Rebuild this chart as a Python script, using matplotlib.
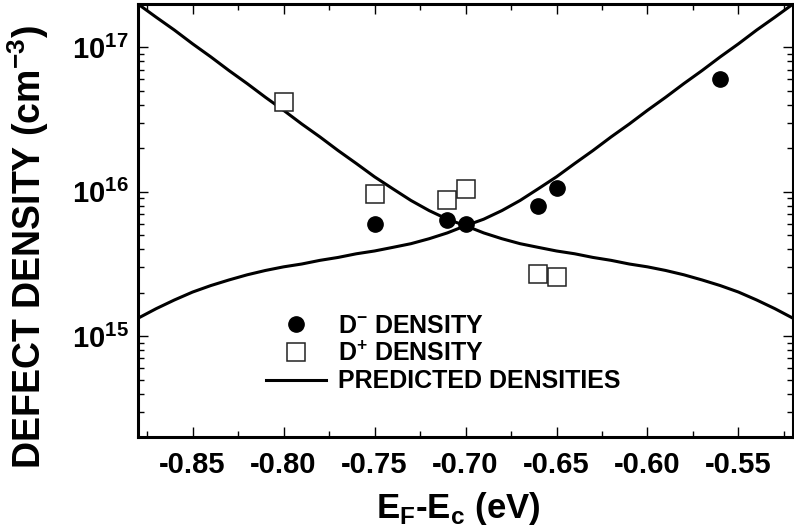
import numpy as np
import matplotlib
matplotlib.use("Agg")
import matplotlib.pyplot as plt
from matplotlib.ticker import FixedLocator, LogLocator, NullFormatter, FuncFormatter
from matplotlib.lines import Line2D

plt.rcParams['font.family'] = ['Liberation Sans', 'DejaVu Sans']
plt.rcParams['font.weight'] = 'bold'
plt.rcParams['axes.labelweight'] = 'bold'

# Measured defect densities (cm^-3) versus Fermi level position E_F - E_c (eV)
d_minus_x = [-0.75, -0.71, -0.70, -0.66, -0.65, -0.56]
d_minus_y = [6.0e15, 6.4e15, 6.0e15, 8.0e15, 1.07e16, 6.0e16]

d_plus_x = [-0.80, -0.75, -0.71, -0.70, -0.66, -0.65]
d_plus_y = [4.2e16, 9.7e15, 8.8e15, 1.05e16, 2.7e15, 2.55e15]

# Predicted densities on a 0.01 eV grid
model_x = [-0.88, -0.87, -0.86, -0.85, -0.84, -0.83, -0.82, -0.81, -0.80,
           -0.79, -0.78, -0.77, -0.76, -0.75, -0.74, -0.73, -0.72, -0.71,
           -0.70, -0.69, -0.68, -0.67, -0.66, -0.65, -0.64, -0.63, -0.62,
           -0.61, -0.60, -0.59, -0.58, -0.57, -0.56, -0.55, -0.54, -0.53,
           -0.52]
model_d_plus = [2.00e17, 1.62e17, 1.32e17, 1.06e17, 8.61e16, 6.92e16, 5.62e16,
                4.52e16, 3.67e16, 2.95e16, 2.40e16, 1.93e16, 1.57e16, 1.27e16,
                1.05e16, 8.71e15, 7.41e15, 6.46e15, 5.82e15, 5.19e15, 4.73e15,
                4.37e15, 4.12e15, 3.89e15, 3.72e15, 3.51e15, 3.35e15, 3.16e15,
                3.02e15, 2.85e15, 2.66e15, 2.45e15, 2.24e15, 2.02e15, 1.78e15,
                1.55e15, 1.33e15]
model_d_minus = [1.33e15, 1.55e15, 1.78e15, 2.02e15, 2.24e15, 2.45e15, 2.66e15,
                 2.85e15, 3.02e15, 3.16e15, 3.35e15, 3.51e15, 3.72e15, 3.89e15,
                 4.12e15, 4.37e15, 4.73e15, 5.19e15, 5.82e15, 6.46e15, 7.41e15,
                 8.71e15, 1.05e16, 1.27e16, 1.57e16, 1.93e16, 2.40e16, 2.95e16,
                 3.67e16, 4.52e16, 5.62e16, 6.92e16, 8.61e16, 1.06e17, 1.32e17,
                 1.62e17, 2.00e17]

x_ticks = [-0.85, -0.80, -0.75, -0.70, -0.65, -0.60, -0.55]
x_tick_labels = ['-0.85', '-0.80', '-0.75', '-0.70', '-0.65', '-0.60', '-0.55']

fig = plt.figure(figsize=(7.94, 5.29), dpi=100)
ax = fig.add_axes([0.1738, 0.1739, 0.8250, 0.8185])

ax.plot(model_x, model_d_plus, color='black', lw=2.2, solid_capstyle='butt')
ax.plot(model_x, model_d_minus, color='black', lw=2.2, solid_capstyle='butt')
ax.plot(d_plus_x, d_plus_y, linestyle='none', marker='s', ms=13,
        mfc='white', mec='#222222', mew=1.1)
ax.plot(d_minus_x, d_minus_y, linestyle='none', marker='o', ms=11,
        mfc='black', mec='black')

ax.set_yscale('log')
ax.set_xlim(-0.88, -0.52)
ax.set_ylim(2e14, 2e17)

ax.xaxis.set_major_locator(FixedLocator(x_ticks))
ax.xaxis.set_minor_locator(FixedLocator(np.arange(-0.875, -0.52, 0.05)))
ax.set_xticklabels(x_tick_labels)
ax.yaxis.set_major_locator(LogLocator(base=10, numticks=10))
ax.yaxis.set_minor_locator(LogLocator(base=10, subs=np.arange(2, 10), numticks=10))
ax.yaxis.set_minor_formatter(NullFormatter())
ax.yaxis.set_major_formatter(FuncFormatter(
    lambda v, p: r'$\mathregular{10^{%d}}$' % int(round(np.log10(v)))))

ax.tick_params(which='both', direction='in', top=True, right=True, width=1.0,
               colors='black')
ax.tick_params(which='major', length=7)
ax.tick_params(which='minor', length=4.5)
ax.tick_params(axis='x', which='major', labelsize=21, pad=10)
ax.tick_params(axis='y', which='major', labelsize=21, pad=7)
for lab in ax.get_xticklabels() + ax.get_yticklabels():
    lab.set_fontweight('bold')

for s in ax.spines.values():
    s.set_linewidth(2.2)

ax.set_xlabel(r'E$_\mathregular{F}$-E$_\mathregular{c}$ (eV)', fontsize=25,
              fontweight='bold')
ax.xaxis.set_label_coords(0.4885, -0.122)
ax.set_ylabel(r'DEFECT DENSITY (cm$^\mathregular{-3}$)', fontsize=27,
              fontweight='bold')
ax.yaxis.set_label_coords(-0.133, 0.44)

handles = [
    Line2D([], [], linestyle='none', marker='o', ms=11, mfc='black', mec='black'),
    Line2D([], [], linestyle='none', marker='s', ms=13, mfc='white',
           mec='#222222', mew=1.1),
    Line2D([], [], color='black', lw=2.2),
]
labels = [r'D$^\mathregular{-}$ DENSITY', r'D$^\mathregular{+}$ DENSITY',
          'PREDICTED DENSITIES']
leg = ax.legend(handles, labels, loc='upper left', bbox_to_anchor=(0.195, 0.285),
                frameon=False, fontsize=18, handlelength=2.4, handletextpad=0.5,
                labelspacing=0.15, borderpad=0, borderaxespad=0)
for t in leg.get_texts():
    t.set_fontweight('bold')

fig.savefig('out.png', dpi=100)
